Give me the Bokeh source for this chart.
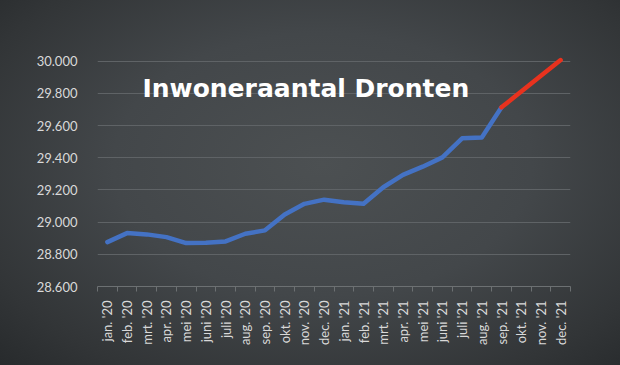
import math
from bokeh.plotting import figure
from bokeh.models import Range1d, FixedTicker, Label
from bokeh.embed import file_html
from bokeh.resources import INLINE

# ---- data ----
months = ["jan. '20", "feb. '20", "mrt. '20", "apr. '20", "mei '20", "juni '20",
          "juli '20", "aug. '20", "sep. '20", "okt. '20", "nov. '20", "dec. '20",
          "jan. '21", "feb. '21", "mrt. '21", "apr. '21", "mei '21", "juni '21",
          "juli '21", "aug. '21", "sep. '21", "okt. '21", "nov. '21", "dec. '21"]
actual = [28876, 28932, 28924, 28907, 28870, 28872, 28880, 28928, 28949, 29048,
          29114, 29140, 29124, 29114, 29217, 29294, 29345, 29403, 29521, 29527, 29714]
forecast = [29714, 29812, 29910, 30008]          # sep. '21 .. dec. '21
y_ticks = [28600, 28800, 29000, 29200, 29400, 29600, 29800, 30000]
y_tick_labels = ["28.600", "28.800", "29.000", "29.200", "29.400", "29.600", "29.800", "30.000"]
title_text = "Inwoneraantal Dronten"

x_actual = list(range(len(actual)))
x_forecast = list(range(len(actual) - 1, len(actual) - 1 + len(forecast)))

p = figure(width=620, height=365, output_backend="svg", toolbar_location=None,
           x_range=Range1d(-0.5, len(months) - 0.5),
           y_range=Range1d(28600, 30030),
           min_border_left=97, min_border_right=50, min_border_top=56, min_border_bottom=79,
           background_fill_color=None, border_fill_color=None, outline_line_color=None,
           styles={"background": "radial-gradient(ellipse 75% 80% at 52% 45%, #4c5052 0%, #43474a 45%, #323537 80%, #26292b 100%)"})

# lines
p.line(x_actual, actual, line_color="#4472c4", line_width=4.5,
       line_join="round", line_cap="round")
p.line(x_forecast, forecast, line_color="#e8321e", line_width=4.5,
       line_join="round", line_cap="round")

# title inside plot
p.add_layout(Label(x=1.78, y=29832, text=title_text, text_color="#ffffff",
                   text_font="DejaVu Sans", text_font_style="bold",
                   text_font_size="25px", text_baseline="alphabetic"))

# y axis
p.yaxis.ticker = FixedTicker(ticks=y_ticks)
p.yaxis.major_label_overrides = {t: s for t, s in zip(y_ticks, y_tick_labels)}
p.yaxis.axis_line_color = None
p.yaxis.major_tick_line_color = None
p.yaxis.minor_tick_line_color = None
p.yaxis.major_label_standoff = 14
p.yaxis.major_label_text_font = "Lato"
p.yaxis.major_label_text_font_size = "13px"
p.yaxis.major_label_text_color = "#d9d9d9"

# x axis
x_idx = list(range(len(months)))
p.xaxis.ticker = FixedTicker(ticks=x_idx, minor_ticks=[i - 0.5 for i in range(len(months) + 1)])
p.xaxis.major_label_overrides = {i: m for i, m in zip(x_idx, months)}
p.xaxis.major_label_orientation = math.pi / 2
p.xaxis.axis_line_color = "#6c7072"
p.xaxis.axis_line_width = 1
p.xaxis.major_tick_line_color = None
p.xaxis.minor_tick_line_color = "#6c7072"
p.xaxis.minor_tick_in = 0
p.xaxis.minor_tick_out = 5
p.xaxis.major_label_standoff = 8
p.xaxis.major_label_text_font = "Lato"
p.xaxis.major_label_text_font_size = "13px"
p.xaxis.major_label_text_color = "#d9d9d9"

# grid
p.xgrid.grid_line_color = None
p.ygrid.grid_line_color = "#5f6366"
p.ygrid.grid_line_width = 1

open("out.html", "w").write(file_html(p, INLINE))
